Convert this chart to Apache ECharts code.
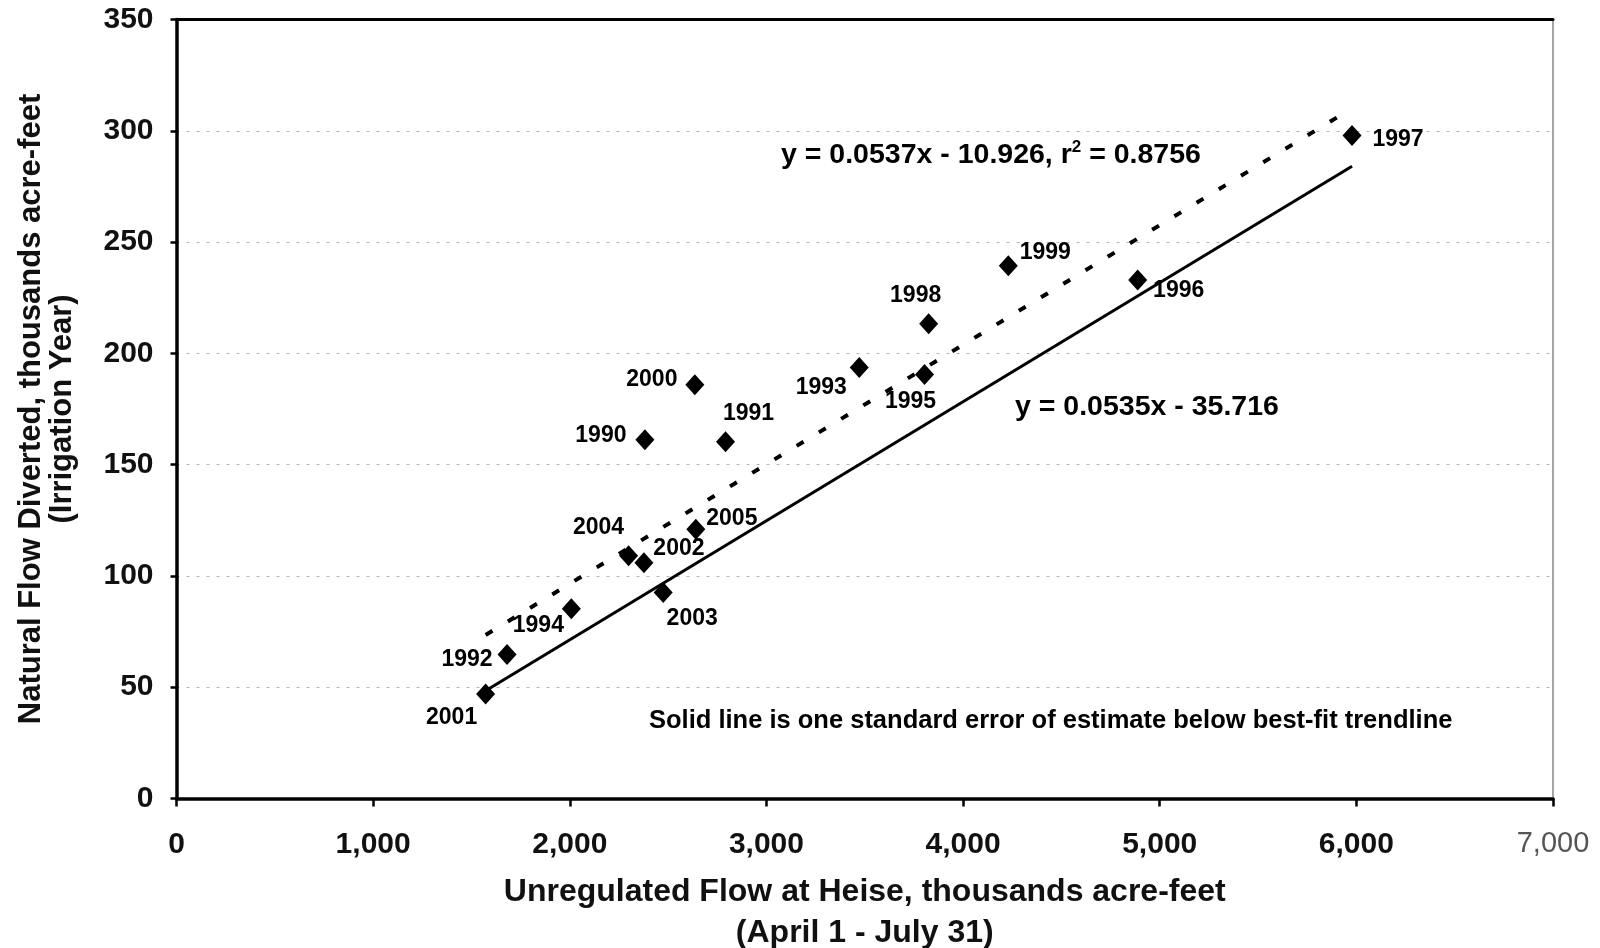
<!DOCTYPE html>
<html>
<head>
<meta charset="utf-8">
<script src="https://cdn.jsdelivr.net/npm/echarts@6/dist/echarts.min.js"></script>
<style>
  html, body { margin: 0; padding: 0; background: #fff; }
  #chart { width: 1600px; height: 948px; }
</style>
</head>
<body>
<div id="chart"></div>
<script>
// Irrigation years and their flows (thousands of acre-feet)
const years = ['2001', '1992', '1994', '2004', '2002', '2003', '1990', '2000',
               '2005', '1991', '1993', '1995', '1998', '1999', '1996', '1997'];
// Unregulated flow at Heise, April 1 - July 31
const heiseFlow = [1572, 1681, 2008, 2299, 2377, 2475, 2382, 2636,
                   2641, 2792, 3472, 3804, 3825, 4230, 4888, 5978];
// Natural flow diverted over the irrigation year
const naturalFlow = [46.9, 64.7, 85.3, 109.1, 105.9, 92.6, 161.2, 185.9,
                     121.0, 160.3, 193.7, 190.5, 213.3, 239.4, 233.0, 297.9];

// Axis ranges
const xTicks = [0, 1000, 2000, 3000, 4000, 5000, 6000, 7000];
const yTicks = [0, 50, 100, 150, 200, 250, 300, 350];

// Best-fit trendline and the line one standard error below it
const fitSlope = 0.0537, fitIntercept = -10.926, fitR2 = 0.8756;
const lowSlope = 0.0535, lowIntercept = -35.716;

// Where each year's label sits relative to its marker (px)
const labelOffsets = {
  '2001': [-34, 24], '1992': [-40, 5], '1994': [-33, 17], '2004': [-30, -28],
  '2002': [35, -14], '2003': [29, 26], '1990': [-44, -4], '2000': [-43, -5],
  '2005': [36, -11], '1991': [23, -28], '1993': [-38, 20], '1995': [-14, 27],
  '1998': [-13, -28], '1999': [37, -13], '1996': [41, 11], '1997': [46, 4]
};

const FONT = "'Liberation Sans', Arial, sans-serif";
const xMin = Math.min(...heiseFlow), xMax = Math.max(...heiseFlow);
const fitLine = [[xMin, fitSlope * xMin + fitIntercept], [xMax, fitSlope * xMax + fitIntercept]];
const lowLine = [[xMin, lowSlope * xMin + lowIntercept], [xMax, lowSlope * xMax + lowIntercept]];

const points = years.map((yr, i) => ({
  name: yr,
  value: [heiseFlow[i], naturalFlow[i]],
  label: { offset: labelOffsets[yr] }
}));

const fmtEq = (m, b) => 'y = ' + m.toFixed(4) + 'x - ' + Math.abs(b).toFixed(3);

const chart = echarts.init(document.getElementById('chart'));
chart.setOption({
  animation: false,
  backgroundColor: '#fff',
  textStyle: { fontFamily: FONT },
  grid: { left: 176.5, right: 47, top: 19.5, bottom: 149.5, outerBoundsMode: 'none' },
  xAxis: [{
    type: 'value', min: xTicks[0], max: xTicks[xTicks.length - 1], interval: 1000,
    position: 'bottom',
    name: 'Unregulated Flow at Heise, thousands acre-feet\n(April 1 - July 31)',
    nameLocation: 'middle', nameGap: 73,
    nameTextStyle: { fontFamily: FONT, fontSize: 32, fontWeight: 'bold', color: '#111', lineHeight: 41 },
    axisLine: { show: true, onZero: false, lineStyle: { color: '#000', width: 3.5 } },
    axisTick: { show: true, inside: false, length: 8, lineStyle: { color: '#000', width: 2.5 } },
    axisLabel: {
      margin: 31,
      formatter: v => v === 7000 ? '{light|7,000}' : '{b|' + v.toLocaleString('en-US') + '}',
      rich: {
        b: { fontFamily: FONT, fontSize: 30, fontWeight: 'bold', color: '#111' },
        light: { fontFamily: FONT, fontSize: 29, fontWeight: 'normal', color: '#555' }
      }
    },
    splitLine: { show: false }
  }, {
    // top frame
    type: 'value', min: 0, max: 7000, position: 'top',
    axisLine: { show: true, onZero: false, lineStyle: { color: '#000', width: 3 } },
    axisTick: { show: false }, axisLabel: { show: false }, splitLine: { show: false }
  }],
  yAxis: [{
    type: 'value', min: yTicks[0], max: yTicks[yTicks.length - 1], interval: 50,
    position: 'left',
    name: 'Natural Flow Diverted, thousands acre-feet\n(Irrigation Year)',
    nameLocation: 'middle', nameGap: 99, nameRotate: 90,
    nameTextStyle: { fontFamily: FONT, fontSize: 31, fontWeight: 'bold', color: '#111', lineHeight: 31 },
    axisLine: { show: true, onZero: false, lineStyle: { color: '#000', width: 3.5 } },
    axisTick: { show: true, inside: false, length: 6, lineStyle: { color: '#000', width: 2.5 } },
    axisLabel: { margin: 23, fontFamily: FONT, fontSize: 30, fontWeight: 'bold', color: '#111' },
    splitLine: { show: true, lineStyle: { color: '#b5b5b5', width: 1, type: [3, 7] } }
  }, {
    // right frame
    type: 'value', min: 0, max: 350, position: 'right',
    axisLine: { show: true, onZero: false, lineStyle: { color: '#888', width: 1.5 } },
    axisTick: { show: false }, axisLabel: { show: false }, splitLine: { show: false }
  }],
  series: [{
    name: 'Best-fit trendline',
    type: 'line', data: fitLine, symbol: 'none', z: 2,
    lineStyle: { color: '#000', width: 4, type: [8, 18], cap: 'butt' }
  }, {
    name: 'One standard error below',
    type: 'line', data: lowLine, symbol: 'none', z: 2,
    lineStyle: { color: '#000', width: 3 }
  }, {
    name: 'Years',
    type: 'scatter', data: points, z: 5,
    symbol: 'diamond', symbolSize: [19, 21],
    itemStyle: { color: '#000', opacity: 1 },
    label: {
      show: true, position: 'inside',
      formatter: p => p.name,
      fontFamily: FONT, fontSize: 23, fontWeight: 'bold', color: '#000', opacity: 1
    }
  }],
  graphic: [{
    type: 'text', left: 781, top: 139,
    style: {
      text: fmtEq(fitSlope, fitIntercept) + ', r{sup|2} = ' + fitR2.toFixed(4),
      font: 'bold 28.5px ' + FONT, fill: '#000',
      rich: { sup: { font: 'bold 17px ' + FONT, fill: '#000', padding: [0, 0, 15, 0] } }
    }
  }, {
    type: 'text', left: 1015, top: 393,
    style: { text: fmtEq(lowSlope, lowIntercept), font: 'bold 28.5px ' + FONT, fill: '#000' }
  }, {
    type: 'text', left: 649, top: 708,
    style: { text: 'Solid line is one standard error of estimate below best-fit trendline',
             font: 'bold 25.5px ' + FONT, fill: '#000' }
  }]
});
</script>
</body>
</html>
